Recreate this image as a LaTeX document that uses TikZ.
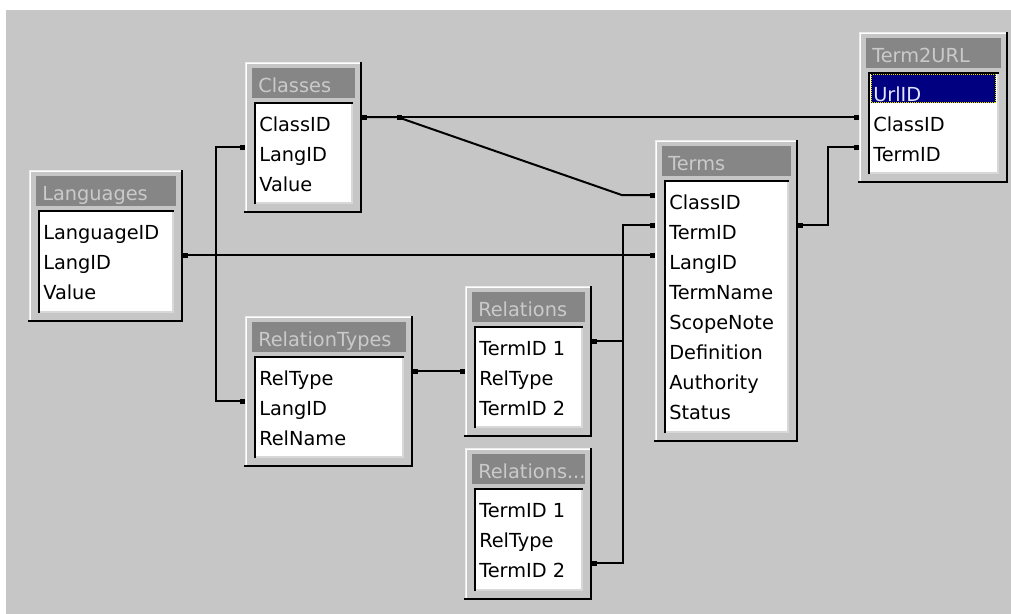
\documentclass[tikz,border=0pt]{standalone}
\usepackage{fontspec}
\setmainfont{DejaVu Sans}
\usetikzlibrary{arrows.meta,fit,calc}

\definecolor{canvas}{HTML}{C6C6C6}
\definecolor{titlebar}{HTML}{868686}
\definecolor{titletext}{HTML}{CACACA}
\definecolor{edgelight}{HTML}{ECECEC}
\definecolor{wellgrey}{HTML}{D8D8D8}
\definecolor{selnavy}{HTML}{000080}
\definecolor{selyellow}{HTML}{E8E000}
\definecolor{seltext}{HTML}{E4E4FF}

\tikzset{
  tablebox/.style={inner sep=0pt},
  tabletitle/.style={anchor=base west, inner sep=0pt, text=titletext,
    font=\fontsize{14.5pt}{17pt}\selectfont},
  field/.style={anchor=north west, inner sep=0pt, text height=10.6pt,
    text depth=3pt, font=\fontsize{14.5pt}{17pt}\selectfont},
  selfield/.style={field, text=seltext},
  fkline/.style={line width=1.5pt,
    {Square[length=3.5pt,width=3.75pt]}-{Square[length=3.5pt,width=3.75pt]}},
}

% raised table window: name, left, top, right, bottom
\newcommand\dbframe[5]{%
  \coordinate (#1-nw) at (#2,#3);
  \coordinate (#1-se) at (#4,#5);
  \node[tablebox, fit=(#1-nw)(#1-se)] (#1) {};
  \fill[canvas] (#2,#3) rectangle (#4,#5);
  \draw[edgelight, line width=0.75pt] (#2+0.5,#5-1) -- (#2+0.5,#3+0.5) -- (#4-1,#3+0.5);
  \draw[white, line width=0.75pt] (#2+1.5,#5-2) -- (#2+1.5,#3+1.5) -- (#4-2,#3+1.5);
  \draw[black, line width=1.5pt] (#4-1,#3) -- (#4-1,#5-1) -- (#2-1,#5-1);
  \fill[titlebar] (#2+7,#3+6) rectangle (#4-7,#3+36);
  \fill[white] (#2+9,#3+40) rectangle (#4-9,#5-9);
  \draw[black, line width=1.9pt] (#2+10,#5-9) -- (#2+10,#3+41) -- (#4-9,#3+41);
  \draw[wellgrey, line width=1.5pt] (#2+11,#5-10) -- (#4-10,#5-10) -- (#4-10,#3+42);
}
% caption in the title bar: name, left, top, text
\newcommand\dbtitle[4]{%
  \node[tabletitle] (#1-title) at (#2+13,#3+30) {#4};
}
% field rows: name, left, top, list, first row index
\newcommand\dbfields[5]{%
  \foreach \f [count=\i from #5] in {#4}
    \node[field] (#1-\i) at (#2+14,#3+55+30*\i) {\f};
}

\begin{document}
\begin{tikzpicture}[x=0.75pt,y=-0.75pt]
\useasboundingbox (0,0) rectangle (1011,614);
\fill[white] (0,0) rectangle (1011,614);
\fill[canvas] (6,10) rectangle (1011,614);

% Languages
\dbframe{languages}{29}{170}{183}{322}
\dbtitle{languages}{29}{170}{Languages}
\dbfields{languages}{29}{170}{LanguageID,LangID,Value}{0}

% Classes
\dbframe{classes}{245}{62}{362}{213}
\dbtitle{classes}{245}{62}{Classes}
\dbfields{classes}{245}{62}{ClassID,LangID,Value}{0}

% Term2URL with the selected key row
\dbframe{term2url}{859}{32}{1008}{183}
\dbtitle{term2url}{859}{32}{Term2URL}
\fill[selnavy] (871,74) rectangle (996,103);
\draw[black, line width=0.75pt] (871.5,74.5) rectangle (995.5,102.5);
\draw[selyellow, line width=0.75pt, dash pattern=on 0.75pt off 0.75pt] (871.5,74.5) rectangle (995.5,102.5);
\node[selfield] (term2url-0) at (873,87) {UrlID};
\dbfields{term2url}{859}{32}{ClassID,TermID}{1}

% Terms
\dbframe{terms}{655}{140}{798}{442}
\dbtitle{terms}{655}{140}{Terms}
\dbfields{terms}{655}{140}{ClassID,TermID,LangID,TermName,ScopeNote,Definition,Authority,Status}{0}

% RelationTypes
\dbframe{reltypes}{245}{316}{413}{467}
\dbtitle{reltypes}{245}{316}{RelationTypes}
\dbfields{reltypes}{245}{316}{RelType,LangID,RelName}{0}

% Relations
\dbframe{relations}{465}{286}{592}{437}
\dbtitle{relations}{465}{286}{Relations}
\dbfields{relations}{465}{286}{TermID 1,RelType,TermID 2}{0}

% second copy of Relations
\dbframe{relationsb}{465}{448}{592}{600}
\dbtitle{relationsb}{465}{448}{Relations...}
\dbfields{relationsb}{465}{448}{TermID 1,RelType,TermID 2}{0}

% joins
\draw[fkline] (classes.east |- classes-0.north) -- (term2url.west |- term2url-1.north);
\draw[fkline] (classes.east |- classes-0.north) -- ++(35,0) coordinate (cbend)
  -- ($(terms.west |- terms-0.north)+(-33,0)$) -- (terms.west |- terms-0.north);
\fill (cbend) +(0,-2.5) rectangle +(5,2.5);
\draw[fkline] (classes.west |- classes-1.north) -- ++(-29,0) |- (reltypes.west |- reltypes-1.north);
\draw[fkline] (languages.east |- languages-1.north) -- (terms.west |- terms-2.north);
\draw[fkline] (terms.east |- terms-1.north) -- ++(30,0) |- (term2url.west |- term2url-2.north);
\draw[fkline] (terms.west |- terms-1.north) -- ++(-32,0) |- (relations.east |- relations-0.north);
\draw[fkline] (terms.west |- terms-1.north) -- ++(-32,0) |- (relationsb.east |- relationsb-2.north);
\draw[fkline] (reltypes.east |- reltypes-0.north) -- (relations.west |- relations-1.north);
\end{tikzpicture}
\end{document}
